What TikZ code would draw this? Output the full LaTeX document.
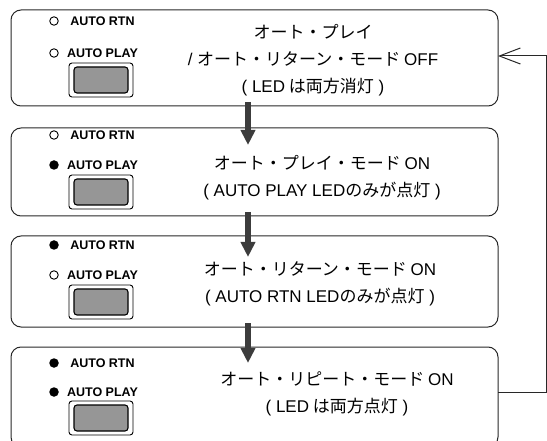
\documentclass[tikz,border=0pt]{standalone}
\usepackage{fontspec}
\setmainfont{Liberation Sans}
\newfontfamily\jpfont{Noto Sans CJK JP}
\newfontfamily\latfont{Liberation Sans}
\usetikzlibrary{arrows.meta,calc}
\definecolor{linegray}{RGB}{40,40,40}
\definecolor{arrowgray}{RGB}{60,60,60}
\definecolor{btngray}{RGB}{150,150,150}
\newcommand{\lat}[1]{{\latfont #1}}
\tikzset{
  statebox/.style={draw=linegray, line width=1pt, rounded corners=10pt, minimum width=487pt, inner sep=0pt, outer sep=0pt},
  ledlabel/.style={font=\fontsize{12.5}{14}\selectfont\bfseries, inner sep=0pt, anchor=center},
  ledoff/.style={circle, draw=black, line width=0.9pt, minimum size=8.5pt, inner sep=0pt},
  ledon/.style={circle, fill=black, minimum size=9.5pt, inner sep=0pt},
  btnouter/.style={draw=black, line width=0.9pt, fill=white, rounded corners=3pt, minimum width=64pt, minimum height=34pt, inner sep=0pt},
  btninner/.style={draw=black, line width=1.1pt, fill=btngray, rounded corners=3pt, minimum width=54pt, minimum height=26pt, inner sep=0pt},
  desc/.style={font=\jpfont\fontsize{17}{27}\selectfont, align=center, inner sep=0pt},
  flowarrow/.style={draw=arrowgray, line width=6pt, -{Triangle[length=15pt,width=14pt]}},
  returnline/.style={draw=linegray, line width=1pt, -{Straight Barb[length=21pt,width=16pt]}},
}
\begin{document}
\begin{tikzpicture}[x=1pt,y=-1pt]
\useasboundingbox (0,0) rectangle (547,441);
% state boxes
\node[statebox, minimum height=96pt] (b1) at (254.5,58) {};
\node[statebox, minimum height=88pt] (b2) at (254.5,172) {};
\node[statebox, minimum height=91pt] (b3) at (254.5,281.5) {};
\node[statebox, minimum height=100pt] (b4) at (254.5,397) {};
\coordinate (ax) at (248,0);

% box 1
\node[ledoff] (l1r) at (54,21) {};
\node[ledlabel] (t1r) at (102.5,21) {AUTO RTN};
\node[ledoff] (l1p) at (54,53) {};
\node[ledlabel] (t1p) at (102.5,53) {AUTO PLAY};
\node[btnouter] (k1) at (101,80) {};
\node[btninner] (k1i) at (k1) {};
\node[desc] (d1) at (313,60) {オート・プレイ\\\lat{/ }オート・リターン・モード \lat{OFF}\\\lat{( LED} は両方消灯\lat{ )}};

% box 2
\node[ledoff] (l2r) at (54,135) {};
\node[ledlabel] (t2r) at (102.5,135) {AUTO RTN};
\node[ledon] (l2p) at (54,165) {};
\node[ledlabel] (t2p) at (102.5,165) {AUTO PLAY};
\node[btnouter] (k2) at (101,192) {};
\node[btninner] (k2i) at (k2) {};
\node[desc] (d2) at (322,178) {オート・プレイ・モード \lat{ON}\\\lat{( AUTO PLAY LED}のみが点灯\lat{ )}};

% box 3
\node[ledon] (l3r) at (54,245) {};
\node[ledlabel] (t3r) at (102.5,245) {AUTO RTN};
\node[ledoff] (l3p) at (54,275) {};
\node[ledlabel] (t3p) at (102.5,275) {AUTO PLAY};
\node[btnouter] (k3) at (101,302) {};
\node[btninner] (k3i) at (k3) {};
\node[desc] (d3) at (320,284) {オート・リターン・モード \lat{ON}\\\lat{( AUTO RTN LED}のみが点灯\lat{ )}};

% box 4
\node[ledon] (l4r) at (54,363) {};
\node[ledlabel] (t4r) at (102.5,363) {AUTO RTN};
\node[ledon] (l4p) at (54,392) {};
\node[ledlabel] (t4p) at (102.5,392) {AUTO PLAY};
\node[btnouter] (k4) at (101,418) {};
\node[btninner] (k4i) at (k4) {};
\node[desc] (d4) at (337,394) {オート・リピート・モード \lat{ON}\\\lat{( LED} は両方点灯\lat{ )}};

% flow arrows
\draw[flowarrow] ($(b1.south -| ax)+(0,-4)$) -- ($(b2.north -| ax)+(0,17)$);
\draw[flowarrow] ($(b2.south -| ax)+(0,-4)$) -- ($(b3.north -| ax)+(0,21)$);
\draw[flowarrow] ($(b3.south -| ax)+(0,-4)$) -- ($(b4.north -| ax)+(0,16)$);

% return line
\draw[returnline] ([yshift=5pt]b4.east) -- ++(48,0) |- ([yshift=2pt]b1.east);
\end{tikzpicture}
\end{document}
